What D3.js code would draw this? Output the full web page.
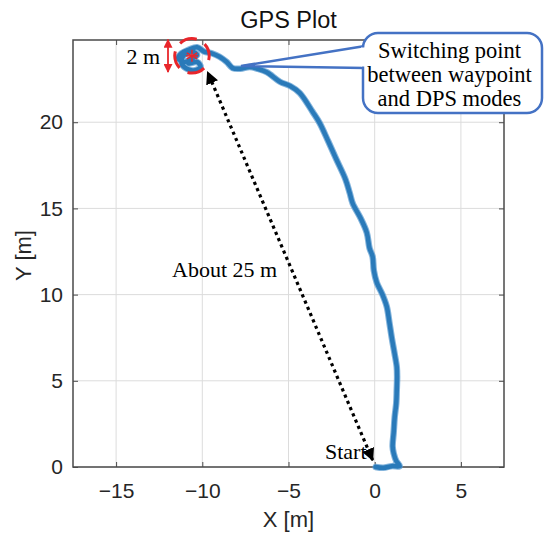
<!DOCTYPE html>
<html><head><meta charset="utf-8">
<script src="https://cdn.jsdelivr.net/npm/d3@7"></script>
<style>body{margin:0;background:#fff}svg{display:block}</style>
</head><body>
<svg id="c" width="546" height="533"></svg>
<script>
// ---- data ----
const xTicks = [-15, -10, -5, 0, 5];
const yTicks = [0, 5, 10, 15, 20];
const xDomain = [-17.5, 7.5];
const yDomain = [0, 24.77];
const trackX = [0.05,0.5,1.0,1.45,1.25,1.1,1.04,1.1,1.16,1.25,1.28,1.3,1.28,1.15,0.99,0.85,0.7,0.45,0.12,-0.05,-0.12,-0.3,-0.46,-0.8,-1.28,-1.45,-1.7,-2.25,-2.7,-3.19,-3.6,-4.35,-4.9,-5.5,-6.26,-6.8,-7.25,-7.8,-8.24,-8.58,-9.0,-9.45,-9.9,-10.3,-10.8,-11.2,-11.4,-11.0,-10.6,-10.3,-10.6,-11.1,-11.2,-10.9,-10.5,-10.1,-10.3,-10.8,-10.5];
const trackY = [0.0,-0.05,0.05,0.05,0.35,0.8,1.2,2.0,2.9,3.7,4.5,5.2,5.8,6.6,7.5,8.4,9.3,10.0,10.7,11.4,12.2,12.7,13.6,14.4,15.3,15.9,16.7,17.9,18.9,19.95,20.6,21.7,22.1,22.35,22.9,23.1,23.2,23.1,23.14,23.49,23.8,24.0,24.1,24.35,24.2,24.0,23.7,23.5,23.7,23.9,24.1,23.85,23.4,23.1,23.0,23.2,23.5,23.4,23.8];
const title = "GPS Plot";
const xLabel = "X [m]";
const yLabel = "Y [m]";
const calloutLines = ["Switching point", "between waypoint", "and DPS modes"];
const hoverCenter = [-10.6, 23.85];   // switching point (m)
const hoverRadius = 1;                // m
const distFrom = [-0.12, 0.4], distTo = [-9.69, 22.9];

// ---- layout ----
const svg = d3.select("#c");
const L = 73, T = 40, W = 431, H = 427;
const x = d3.scaleLinear().domain(xDomain).range([L, L + W]);
const y = d3.scaleLinear().domain(yDomain).range([T + H, T]);
const sans = "'Liberation Sans', Arial, sans-serif";
const serif = "'Liberation Serif', 'Times New Roman', serif";
const axisCol = "#4a4a4a", textCol = "#262626";

// grid
const g = svg.append("g");
g.selectAll("line.gx").data(xTicks).join("line")
  .attr("x1", d => x(d)).attr("x2", d => x(d)).attr("y1", T).attr("y2", T + H)
  .attr("stroke", "#dcdcdc").attr("stroke-width", 1);
g.selectAll("line.gy").data(yTicks).join("line")
  .attr("y1", d => y(d)).attr("y2", d => y(d)).attr("x1", L).attr("x2", L + W)
  .attr("stroke", "#dcdcdc").attr("stroke-width", 1);

// axes with inner ticks on all sides
function styleAxis(sel) {
  sel.select(".domain").remove();
  sel.selectAll(".tick line").attr("stroke", axisCol).attr("stroke-width", 1);
  sel.selectAll(".tick text").attr("fill", textCol).attr("font-family", sans).attr("font-size", 21);
}
const fmt = d3.format("");
svg.append("g").attr("transform", `translate(0,${T + H})`)
  .call(d3.axisBottom(x).tickValues(xTicks).tickFormat(fmt).tickSizeInner(-5).tickPadding(16))
  .call(styleAxis);
svg.append("g").attr("transform", `translate(0,${T})`)
  .call(d3.axisTop(x).tickValues(xTicks).tickFormat("").tickSizeInner(-5))
  .call(styleAxis);
svg.append("g").attr("transform", `translate(${L},0)`)
  .call(d3.axisLeft(y).tickValues(yTicks).tickFormat(fmt).tickSizeInner(-5).tickPadding(10))
  .call(styleAxis);
svg.append("g").attr("transform", `translate(${L + W},0)`)
  .call(d3.axisRight(y).tickValues(yTicks).tickFormat("").tickSizeInner(-5))
  .call(styleAxis);
svg.append("rect").attr("x", L).attr("y", T).attr("width", W).attr("height", H)
  .attr("fill", "none").attr("stroke", axisCol).attr("stroke-width", 1.5);

// track
const pts = trackX.map((d, i) => [d, trackY[i]]);
const line = d3.line().x(d => x(d[0])).y(d => y(d[1])).curve(d3.curveCatmullRom.alpha(0.5));
svg.append("path").attr("d", line(pts)).attr("fill", "none")
  .attr("stroke", "#5a9bd0").attr("stroke-width", 6.5).attr("stroke-linejoin", "round").attr("stroke-linecap", "round").attr("opacity", 0.75);
svg.append("path").attr("d", line(pts)).attr("fill", "none")
  .attr("stroke", "#2a7ab9").attr("stroke-width", 4.5).attr("stroke-linejoin", "round").attr("stroke-linecap", "round");

// title and labels
svg.append("text").attr("x", L + W / 2).attr("y", 28).attr("text-anchor", "middle")
  .attr("font-family", sans).attr("font-size", 23.5).attr("fill", "#111").text(title);
svg.append("text").attr("x", L + W / 2).attr("y", 527).attr("text-anchor", "middle")
  .attr("font-family", sans).attr("font-size", 22).attr("fill", textCol).text(xLabel);
svg.append("text").attr("transform", `translate(31,${T + H / 2 + 2}) rotate(-90)`).attr("text-anchor", "middle")
  .attr("font-family", sans).attr("font-size", 22).attr("fill", textCol).text(yLabel);

// defs for arrows
const defs = svg.append("defs");
defs.append("marker").attr("id", "ab").attr("viewBox", "0 0 10 10").attr("refX", 9).attr("refY", 5)
  .attr("markerWidth", 4).attr("markerHeight", 4).attr("orient", "auto-start-reverse").attr("markerUnits", "strokeWidth")
  .append("path").attr("d", "M0,0 L10,5 L0,10 z").attr("fill", "#000");
defs.append("marker").attr("id", "ar").attr("viewBox", "0 0 10 10").attr("refX", 9).attr("refY", 5)
  .attr("markerWidth", 5).attr("markerHeight", 5).attr("orient", "auto-start-reverse").attr("markerUnits", "strokeWidth")
  .append("path").attr("d", "M0,0 L10,5 L0,10 z").attr("fill", "#e8262b");

// hover circle (dashed red)
const cx = x(hoverCenter[0]), cy = y(hoverCenter[1]);
const r = x(hoverCenter[0] + hoverRadius) - cx;
const circ = 2 * Math.PI * r;
svg.append("circle").attr("cx", cx).attr("cy", cy).attr("r", r).attr("fill", "none")
  .attr("stroke", "#e8262b").attr("stroke-width", 3)
  .attr("stroke-dasharray", `${circ / 4 * 0.66},${circ / 4 * 0.34}`)
  .attr("stroke-dashoffset", circ / 8);
// asterisk
for (let a = 0; a < 3; a++) {
  const ang = a * Math.PI / 3 + Math.PI / 2;
  svg.append("line").attr("x1", cx - 6 * Math.cos(ang)).attr("y1", cy - 6 * Math.sin(ang))
    .attr("x2", cx + 6 * Math.cos(ang)).attr("y2", cy + 6 * Math.sin(ang))
    .attr("stroke", "#e8262b").attr("stroke-width", 1.5);
}
svg.append("line").attr("x1", cx - 6).attr("x2", cx + 6).attr("y1", cy).attr("y2", cy)
  .attr("stroke", "#e8262b").attr("stroke-width", 1.5);

// 2 m arrow
const ax = 168;
svg.append("line").attr("x1", ax).attr("x2", ax).attr("y1", cy - r + 1).attr("y2", cy + r - 1)
  .attr("stroke", "#e8262b").attr("stroke-width", 1.8)
  .attr("marker-start", "url(#ar)").attr("marker-end", "url(#ar)");
svg.append("text").attr("x", 160).attr("y", 64).attr("text-anchor", "end")
  .attr("font-family", serif).attr("font-size", 22).attr("fill", "#000").text("2 m");

// 25 m dotted arrow
svg.append("line").attr("x1", x(distFrom[0])).attr("y1", y(distFrom[1]))
  .attr("x2", x(distTo[0])).attr("y2", y(distTo[1]))
  .attr("stroke", "#000").attr("stroke-width", 3.2).attr("stroke-dasharray", "3.2,3.6")
  .attr("marker-start", "url(#ab)").attr("marker-end", "url(#ab)");
svg.append("text").attr("x", 172).attr("y", 277)
  .attr("font-family", serif).attr("font-size", 22).attr("fill", "#000").text("About 25 m");
svg.append("text").attr("x", 325).attr("y", 459)
  .attr("font-family", serif).attr("font-size", 22).attr("fill", "#000").text("Start");

// callout
const blue = "#4472c4";
const bx = 363, by = 33, bw = 179, bh = 80, br = 15;
const tip = [241, 66];
svg.append("path").attr("d", `M${bx + 2},46 L${tip[0]},${tip[1]} L${bx + 2},68`)
  .attr("fill", "#fff").attr("stroke", blue).attr("stroke-width", 2.5).attr("stroke-linejoin", "miter");
svg.append("rect").attr("x", bx).attr("y", by).attr("width", bw).attr("height", bh).attr("rx", br)
  .attr("fill", "#fff").attr("stroke", blue).attr("stroke-width", 2.5);
svg.append("rect").attr("x", bx - 2).attr("y", 47.5).attr("width", 5).attr("height", 19).attr("fill", "#fff");
svg.append("text").attr("font-family", serif).attr("font-size", 22.5).attr("fill", "#000")
  .attr("text-anchor", "middle")
  .selectAll("tspan").data(calloutLines).join("tspan")
  .attr("x", bx + bw / 2 - 3).attr("y", (d, i) => 58 + i * 24).text(d => d);
</script>
</body></html>
